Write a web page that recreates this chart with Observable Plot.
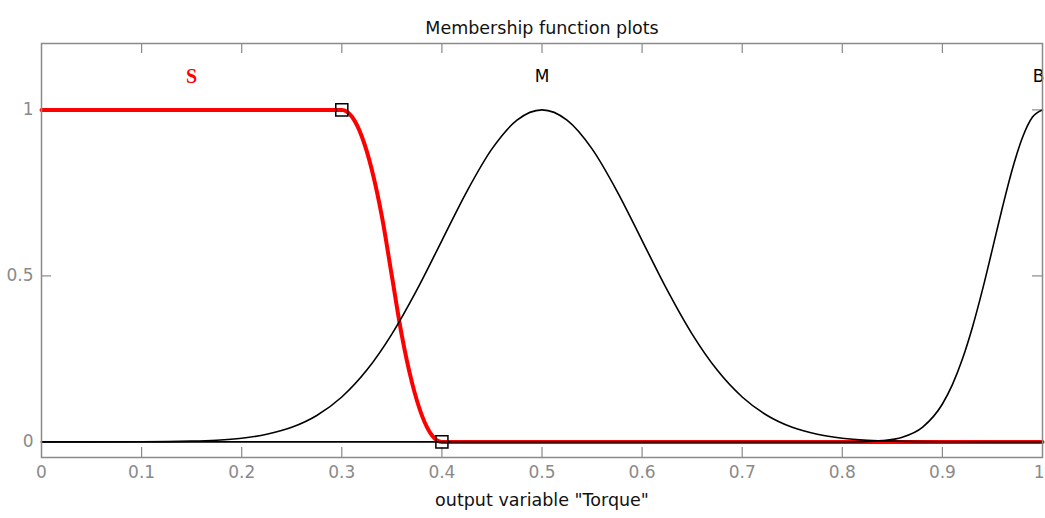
<!DOCTYPE html>
<html>
<head>
<meta charset="utf-8">
<script src="https://cdn.jsdelivr.net/npm/d3@7"></script>
<script src="https://cdn.jsdelivr.net/npm/@observablehq/plot@0.6"></script>
<style>
  html, body { margin: 0; padding: 0; background: #fff; }
  #chart svg { display: block; overflow: hidden; }
</style>
</head>
<body>
<div id="chart"></div>
<script>
// ---- data ----
const titleText = "Membership function plots";
const xLabelText = "output variable \"Torque\"";

// S (selected, red) membership function
const sX = [0, 0.3, 0.31, 0.32, 0.33, 0.34, 0.35, 0.36, 0.37, 0.38, 0.39, 0.4, 1];
const sY = [1, 1, 0.98, 0.92, 0.82, 0.68, 0.5, 0.32, 0.18, 0.08, 0.02, 0, 0];

// M membership function
const mX = [0, 0.1, 0.15, 0.175, 0.2, 0.225, 0.25, 0.275, 0.3, 0.325, 0.35, 0.375, 0.4, 0.425, 0.45, 0.475, 0.5,
            0.525, 0.55, 0.575, 0.6, 0.625, 0.65, 0.675, 0.7, 0.725, 0.75, 0.775, 0.8, 0.825, 0.85, 0.9, 1];
const mY = [0, 0.0003, 0.0022, 0.0051, 0.0111, 0.0228, 0.0439, 0.0796, 0.1353, 0.2163, 0.3247, 0.4578, 0.6065, 0.7548, 0.8825, 0.969, 1,
            0.969, 0.8825, 0.7548, 0.6065, 0.4578, 0.3247, 0.2163, 0.1353, 0.0796, 0.0439, 0.0228, 0.0111, 0.0051, 0.0022, 0.0003, 0];

// B membership function
const bX = [0, 0.8, 0.82, 0.84, 0.86, 0.88, 0.9, 0.91, 0.92, 0.93, 0.94, 0.95, 0.96, 0.97, 0.98, 0.99, 1];
const bY = [0, 0.0002, 0.0009, 0.0039, 0.0142, 0.0439, 0.1142, 0.1724, 0.2494, 0.3453, 0.4578, 0.5813, 0.7066, 0.8226, 0.9169, 0.9785, 1];

// selected-function handles
const handleX = [0.3, 0.4];
const handleY = [1, 0];

// function names and label positions
const mfNames = ["S", "M", "B"];
const mfLabelX = [0.15, 0.5, 1];
const mfLabelY = [1.1, 1.1, 1.1];

// ticks
const xTicks = [0, 0.1, 0.2, 0.3, 0.4, 0.5, 0.6, 0.7, 0.8, 0.9, 1];
const xTickLabels = ["0", "0.1", "0.2", "0.3", "0.4", "0.5", "0.6", "0.7", "0.8", "0.9", "1"];
const yTicks = [0, 0.5, 1];
const yTickLabels = ["0", "0.5", "1"];

// ---- build tables ----
const toRows = (xs, ys) => xs.map((x, i) => ({x, y: ys[i]}));
const sRows = toRows(sX, sY);
const mRows = toRows(mX, mY);
const bRows = toRows(bX, bY);
const handles = toRows(handleX, handleY);
const labels = mfNames.map((n, i) => ({name: n, x: mfLabelX[i], y: mfLabelY[i]}));
const xInnerTicks = xTicks.slice(1, -1);
const xTickRows = xTicks.map((t, i) => ({x: t, label: xTickLabels[i]}));
const lastTick = xTickRows[xTickRows.length - 1];
const otherTicks = xTickRows.slice(0, -1);

const font = "DejaVu Sans";
const gray = "#8a8a8a";
const innerH = 518 - 43 - 61;
const innerW = 1045 - 41 - 3;

const chart = Plot.plot({
  width: 1045,
  height: 518,
  marginTop: 43,
  marginBottom: 61,
  marginLeft: 41,
  marginRight: 3,
  style: {fontFamily: font, background: "#fff"},
  x: {domain: [0, 1], axis: null},
  y: {domain: [-0.047, 1.2], axis: null},
  marks: [
    // inward ticks on all four sides
    Plot.tickX(xInnerTicks, {x: d => d, insetTop: innerH - 10, stroke: gray, strokeWidth: 1.2}),
    Plot.tickX(xInnerTicks, {x: d => d, insetBottom: innerH - 10, stroke: gray, strokeWidth: 1.2}),
    Plot.tickY(yTicks, {y: d => d, insetRight: innerW - 10, stroke: gray, strokeWidth: 1.2}),
    Plot.tickY(yTicks, {y: d => d, insetLeft: innerW - 10, stroke: gray, strokeWidth: 1.2}),
    // x tick labels
    Plot.text(otherTicks, {x: "x", text: "label", frameAnchor: "bottom", dy: 20, fontSize: 17, fill: gray}),
    Plot.text([lastTick], {x: "x", text: "label", frameAnchor: "bottom", dy: 20, dx: 2, textAnchor: "end", fontSize: 17, fill: gray}),
    // y tick labels
    Plot.axisY({ticks: yTicks, tickSize: 0, tickPadding: 8, tickFormat: (d, i) => yTickLabels[i],
                fontSize: 17, fill: gray, label: null}),
    // curves
    Plot.line(sRows, {x: "x", y: "y", stroke: "#ff0000", strokeWidth: 4, curve: "monotone-x"}),
    Plot.line(mRows, {x: "x", y: "y", stroke: "#000", strokeWidth: 1.6, curve: "monotone-x"}),
    Plot.line(bRows, {x: "x", y: "y", stroke: "#000", strokeWidth: 1.6, curve: "monotone-x"}),
    // handles
    Plot.dot(handles, {x: "x", y: "y", symbol: "square", r: 6.8, stroke: "#000", strokeWidth: 1.5, fill: "none"}),
    // function labels
    Plot.text(labels.filter(d => d.name === "S"), {x: "x", y: "y", text: "name", fill: "#ff0000",
              fontFamily: "Liberation Serif", fontWeight: "bold", fontSize: 20}),
    Plot.text(labels.filter(d => d.name === "M"), {x: "x", y: "y", text: "name", fill: "#000",
              fontFamily: font, fontSize: 17}),
    Plot.text(labels.filter(d => d.name === "B"), {x: "x", y: "y", text: "name", fill: "#000",
              fontFamily: font, fontSize: 17, textAnchor: "end", dx: 2}),
    // frame
    Plot.frame({stroke: gray, strokeWidth: 1.5}),
    // title and x label
    Plot.text([titleText], {text: d => d, frameAnchor: "top", dy: -22, fontSize: 17.5, fill: "#111"}),
    Plot.text([xLabelText], {text: d => d, frameAnchor: "bottom", dy: 48, fontSize: 17.5, fill: "#111"})
  ]
});
document.getElementById("chart").appendChild(chart);
</script>
</body>
</html>
